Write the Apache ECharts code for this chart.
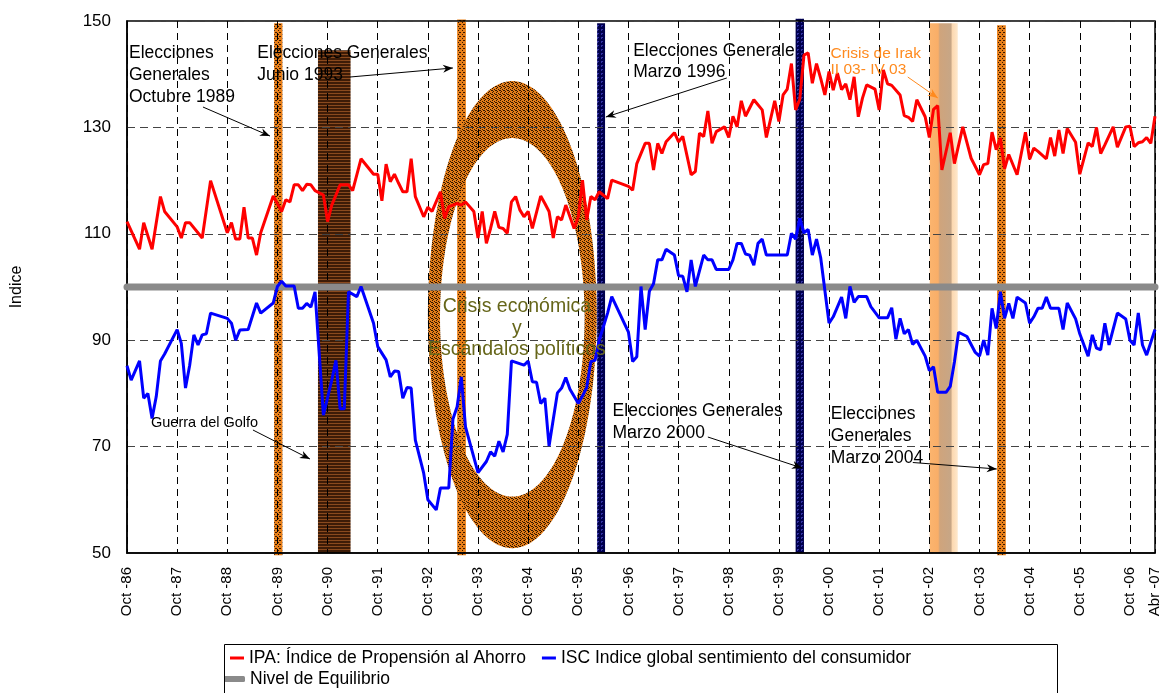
<!DOCTYPE html>
<html><head><meta charset="utf-8">
<script src="https://cdn.jsdelivr.net/npm/echarts/dist/echarts.min.js"></script>
<style>html,body{margin:0;padding:0;background:#fff}#c{width:1174px;height:693px}</style>
</head><body><div id="c"></div>
<script>
const FONT = '"Liberation Sans", Arial, sans-serif';

// x axis: months since Oct-1986 (0 = Oct-86, 246 = Abr-07)
const xTickLabels = ['Oct -86','Oct -87','Oct -88','Oct -89','Oct -90','Oct -91','Oct -92','Oct -93','Oct -94','Oct -95','Oct -96','Oct -97','Oct -98','Oct -99','Oct -00','Oct -01','Oct -02','Oct -03','Oct -04','Oct -05','Oct -06'];
const lastTickLabel = 'Abr -07';
const yTicks = [50,70,90,110,130,150];

const seriesNames = ['IPA: Índice de Propensión al Ahorro','ISC Indice global sentimiento del consumidor','Nivel de Equilibrio'];

// IPA [month, value]
const ipa = [[0,112.3],[3,107.1],[4,112.1],[6,107.1],[8,117.0],[9,114.2],[12,111.3],[13,109.2],[14,112.1],[15,112.1],[18,109.2],[20,120.0],[24,110.2],[25,112.1],[26,109.0],[27,109.0],[28,115.0],[29,109.2],[30,109.2],[31,106.0],[32,110.2],[35,117.1],[37,114.2],[38,116.4],[39,116.0],[40,119.2],[41,119.2],[42,118.1],[43,119.3],[44,119.2],[45,118.1],[47,117.3],[48,112.3],[49,115.4],[51,119.2],[53,119.2],[54,118.1],[56,124.1],[59,121.2],[60,121.2],[61,116.2],[62,123.1],[63,119.8],[64,121.2],[65,119.5],[66,117.9],[67,117.9],[68,124.1],[69,117.0],[71,113.2],[72,115.0],[73,114.2],[75,117.9],[76,112.9],[77,115.1],[78,115.4],[79,115.7],[80,115.4],[81,116.0],[83,114.2],[84,109.2],[85,114.2],[86,108.2],[87,111.0],[88,114.2],[89,111.2],[90,111.0],[91,110.1],[92,116.0],[93,117.0],[94,114.5],[95,113.2],[96,114.2],[97,111.0],[99,117.1],[100,115.7],[101,114.2],[102,109.2],[103,113.2],[104,112.6],[105,115.4],[106,113.2],[107,111.0],[108,113.2],[109,120.1],[110,112.6],[111,117.0],[112,116.4],[113,117.9],[115,116.6],[116,120.1],[120,118.9],[121,118.2],[122,123.2],[124,127.0],[125,127.0],[126,122.0],[127,127.0],[128,125.1],[129,127.3],[131,129.0],[132,127.3],[133,128.3],[135,121.1],[136,121.7],[137,128.9],[138,128.3],[139,133.1],[140,127.0],[141,129.2],[143,130.1],[144,128.1],[145,132.1],[146,130.1],[147,135.0],[148,132.1],[150,135.2],[152,133.3],[153,128.1],[155,135.0],[156,131.1],[157,136.1],[158,137.2],[159,142.0],[160,133.3],[161,135.3],[162,143.6],[163,144.0],[164,138.3],[165,142.0],[166,139.2],[167,136.1],[168,140.5],[169,137.0],[170,140.2],[171,137.1],[172,138.2],[173,135.2],[174,139.5],[175,132.0],[176,135.5],[177,138.0],[179,137.2],[180,133.3],[181,140.8],[182,138.2],[183,137.9],[185,136.1],[186,132.2],[187,131.9],[188,131.1],[189,135.2],[191,132.0],[192,128.1],[193,133.4],[194,134.1],[195,122.0],[197,129.0],[198,123.2],[200,130.1],[202,124.2],[204,121.1],[205,123.0],[206,123.2],[207,129.1],[208,125.8],[209,128.0],[210,122.2],[211,124.9],[213,121.1],[215,129.1],[216,124.0],[217,126.1],[218,125.5],[220,124.1],[221,128.1],[222,124.6],[223,129.5],[224,125.1],[225,129.8],[227,127.2],[228,121.2],[230,127.1],[231,126.4],[232,130.0],[233,125.1],[234,126.7],[236,130.1],[237,126.3],[239,130.1],[240,130.2],[241,126.4],[242,127.1],[243,127.3],[244,128.1],[245,127.0],[246,132.1]];

// ISC [month, value]
const isc = [[0,85.2],[1,82.5],[3,86.1],[4,79.1],[5,80.0],[6,75.3],[7,79.4],[8,86.1],[9,87.4],[12,92.0],[13,89.4],[14,81.0],[15,85.3],[16,91.0],[17,89.1],[18,91.0],[19,91.2],[20,95.1],[24,94.1],[25,93.2],[26,90.0],[27,91.9],[29,92.0],[31,97.0],[32,95.1],[35,97.0],[36,100.1],[37,101.1],[38,100.2],[40,100.2],[41,96.0],[42,96.0],[43,96.9],[44,96.2],[45,99.1],[47,75.9],[49,82.5],[50,86.2],[51,77.1],[52,77.1],[53,99.1],[55,98.2],[56,100.1],[59,93.2],[60,88.8],[62,86.3],[63,83.1],[64,84.2],[65,84.1],[66,79.1],[67,81.1],[68,81.0],[69,71.2],[71,65.0],[72,60.0],[74,58.1],[75,62.2],[77,62.2],[78,75.2],[79,77.5],[80,83.1],[81,73.7],[84,65.1],[86,67.2],[87,69.0],[88,68.2],[89,71.0],[90,69.0],[91,72.3],[92,86.1],[95,85.3],[96,86.1],[97,82.2],[98,82.1],[99,78.1],[100,79.1],[101,70.1],[103,80.1],[104,81.0],[105,83.0],[106,80.8],[108,78.1],[109,79.5],[110,81.1],[111,86.0],[112,86.2],[113,90.0],[115,95.1],[116,98.2],[120,91.5],[121,86.0],[122,86.9],[123,100.1],[124,92.0],[125,99.2],[126,100.6],[127,105.1],[128,105.1],[129,107.1],[131,106.0],[132,102.1],[133,102.0],[134,99.1],[135,105.1],[136,100.1],[138,106.0],[139,105.1],[140,105.1],[141,103.3],[144,103.3],[145,105.1],[146,108.2],[147,108.2],[148,106.2],[149,106.0],[150,104.1],[151,108.2],[152,109.0],[153,106.0],[158,106.0],[159,110.1],[160,109.0],[161,112.9],[162,110.2],[163,110.8],[164,106.0],[165,109.0],[166,105.5],[168,93.2],[169,94.4],[171,98.1],[172,94.1],[173,100.1],[174,97.1],[175,98.2],[177,98.2],[178,96.3],[180,94.2],[182,94.2],[183,96.1],[184,90.2],[185,94.1],[186,91.2],[187,92.0],[188,89.2],[189,90.0],[191,87.0],[192,84.3],[193,85.0],[194,80.2],[196,80.2],[197,81.3],[198,85.9],[199,91.5],[201,90.7],[203,87.7],[204,87.0],[205,90.0],[206,87.2],[207,96.0],[208,92.2],[209,99.1],[210,94.1],[211,96.9],[212,94.1],[213,98.1],[215,97.0],[216,93.2],[217,94.4],[218,96.0],[219,96.0],[220,98.1],[221,96.0],[223,96.0],[224,92.0],[225,97.0],[227,94.0],[228,91.2],[230,87.0],[231,91.0],[232,88.5],[233,88.2],[234,93.2],[235,89.1],[237,95.1],[239,94.0],[240,90.0],[241,89.1],[242,95.1],[243,89.1],[244,87.2],[246,92.0]];

const equilibrium = 100;
const xMin = 0, xMax = 246;

// event bands (months) and their vertical extent (index values)
const bandStart  = [35.2, 45.7, 79.0, 112.5, 160.0, 192.1, 208.2];
const bandEnd    = [37.2, 53.5, 81.1, 114.4, 162.0, 198.8, 210.3];
const bandTop    = [149.6, 144.5, 150.3, 149.6, 150.4, 149.6, 149.2];
const bandBottom = [49.6, 50.0, 49.6, 50.0, 50.0, 50.0, 49.6];
const bandKind   = [0, 1, 0, 2, 2, 3, 0];

// "crisis" ring: centre month/value, outer radii, inner centre value, inner radii
const ringCenterMonth = 92.2, ringCenterValue = 94.8, ringOuterRx = 20.2, ringOuterRy = 43.9;
const ringInnerValue = 94.3, ringInnerRx = 17.3, ringInnerRy = 33.7;

// annotations [month, value] of top-left (or top-centre) corner
const annotations = [
  {text:'Elecciones\nGenerales\nOctubre 1989', at:[0.48,146.05], size:17.5, lh:22, color:'#000', align:'left'},
  {text:'Elecciones Generales\nJunio 1993', at:[31.17,146.05], size:17.5, lh:22, color:'#000', align:'left'},
  {text:'Elecciones Generale\nMarzo 1996', at:[121.12,146.43], size:17.5, lh:21.5, color:'#000', align:'left'},
  {text:'Crisis de Irak\nII 03- IV 03', at:[168.35,145.30], size:15.5, lh:16, color:'#FF8A1E', align:'left'},
  {text:'Guerra del Golfo', at:[5.74,75.94], size:14.5, lh:16, color:'#000', align:'left'},
  {text:'Elecciones Generales\nMarzo 2000', at:[116.2,78.67], size:17.5, lh:21.5, color:'#000', align:'left'},
  {text:'Elecciones\nGenerales\nMarzo 2004', at:[168.42,78.10], size:17.5, lh:22, color:'#000', align:'left'},
  {text:'Crisis económica\ny\nEscándalos políticos', at:[93.3,98.31], size:19.5, lh:21.5, color:'#66661A', align:'center'}
];
const arrows = [
  {from:[18.18,133.83], to:[34.21,128.38], color:'#000'},
  {from:[53.35,139.47], to:[77.99,141.17], color:'#000'},
  {from:[143.54,139.29], to:[114.59,131.95], color:'#000'},
  {from:[186.84,139.47], to:[194.02,135.53], color:'#FF8A1E'},
  {from:[30.14,73.12], to:[43.78,67.67], color:'#000'},
  {from:[139.0,71.8], to:[161.53,65.98], color:'#000'},
  {from:[188.04,67.01], to:[208.13,65.79], color:'#000'}
];

function makeTile(w, h, draw){const c=document.createElement('canvas');c.width=w;c.height=h;const g=c.getContext('2d');draw(g);return c;}
const orangeTile = makeTile(4,4,g=>{g.fillStyle='#E8801A';g.fillRect(0,0,4,4);g.fillStyle='#3a1800';g.fillRect(0,0,1,1);g.fillRect(2,2,1,1);g.fillRect(3,0,1,1);});
const ringTile = makeTile(4,4,g=>{g.fillStyle='#E27C18';g.fillRect(0,0,4,4);g.fillStyle='#301600';g.fillRect(0,0,1,1);g.fillRect(2,1,1,1);g.fillRect(1,3,1,1);g.fillRect(3,2,1,1);g.fillRect(0,2,1,1);});
const brownTile = makeTile(2,3,g=>{g.fillStyle='#8a4a1e';g.fillRect(0,0,2,1);g.fillStyle='#3e1c07';g.fillRect(0,1,2,2);});
const navyTile = makeTile(4,4,g=>{g.fillStyle='#00004e';g.fillRect(0,0,4,4);g.fillStyle='#3434a4';g.fillRect(1,1,2,2);g.fillStyle='#00004e';g.fillRect(2,2,1,1);});
const bandFills = [
  {image: orangeTile, repeat:'repeat'},
  {image: brownTile, repeat:'repeat'},
  {image: navyTile, repeat:'repeat'},
  {type:'linear', x:0, y:0, x2:1, y2:0, colorStops:[
    {offset:0, color:'#FBB46E'},{offset:0.3, color:'#F9AE68'},{offset:0.36, color:'#CFA47C'},
    {offset:0.76, color:'#C7A686'},{offset:0.8, color:'#FCD8B0'},{offset:1, color:'#FEE8CC'}]}
];

const bandData = bandStart.map((s,i)=>[s, bandEnd[i], bandTop[i], bandBottom[i], bandKind[i]]);

const chart = echarts.init(document.getElementById('c'), null, {renderer:'canvas'});
chart.setOption({
  animation:false,
  backgroundColor:'#fff',
  textStyle:{fontFamily:FONT},
  grid:{left:127, right:19, top:21, bottom:140, show:true, backgroundColor:'transparent', borderColor:'#000', borderWidth:1.5, outerBoundsMode:'none', containLabel:false},
  xAxis:{type:'value', min:xMin, max:xMax, interval:12,
    axisLine:{show:true, lineStyle:{color:'#000', width:1.5}}, axisTick:{show:false},
    splitLine:{show:true, lineStyle:{color:'#000', width:1, type:[7,5]}},
    axisLabel:{rotate:90, fontSize:15, color:'#000', fontFamily:FONT, margin:14, showMaxLabel:true, showMinLabel:true,
      formatter:v=>{ if (Math.abs(v-xMax)<1e-6) return lastTickLabel; const i=v/12; return Number.isInteger(i)?(xTickLabels[i]||''):''; }}},
  yAxis:{type:'value', min:yTicks[0], max:yTicks[yTicks.length-1], interval:20,
    axisLine:{show:true, lineStyle:{color:'#000', width:1.5}}, axisTick:{show:false},
    splitLine:{show:true, lineStyle:{color:'#444', width:1, type:[8,5]}},
    axisLabel:{fontSize:17, color:'#000', fontFamily:FONT, margin:16},
    name:'Indice', nameLocation:'middle', nameGap:102, nameTextStyle:{fontSize:16, color:'#000', fontFamily:FONT}},
  legend:[
    {data:[seriesNames[0], seriesNames[1]], left:230, top:649, padding:0, itemGap:16, itemWidth:14, itemHeight:3, icon:'rect',
      textStyle:{fontSize:17.5, color:'#000', fontFamily:FONT}, selectedMode:false},
    {data:[seriesNames[2]], left:224, top:670, padding:0, itemWidth:21, itemHeight:6, icon:'roundRect',
      textStyle:{fontSize:17.5, color:'#000', fontFamily:FONT}, selectedMode:false}
  ],
  series:[
    {type:'custom', name:'bands', z:-1, silent:true, clip:false, data:bandData,
      encode:{x:[0,1], y:[2,3]},
      renderItem:(params, api)=>{
        const p1 = api.coord([api.value(0), api.value(2)]);
        const p2 = api.coord([api.value(1), api.value(3)]);
        return {type:'rect', shape:{x:p1[0], y:p1[1], width:p2[0]-p1[0], height:p2[1]-p1[1]}, style:{fill: bandFills[api.value(4)]}};
      }},
    {type:'custom', name:'ring', z:-1, silent:true, clip:false,
      data:[[ringCenterMonth, ringCenterValue, ringOuterRx, ringOuterRy, ringInnerValue, ringInnerRx, ringInnerRy]],
      encode:{x:0, y:1},
      renderItem:(params, api)=>{
        const cm=api.value(0), cv=api.value(1), orx=api.value(2), ory=api.value(3), icv=api.value(4), irx=api.value(5), iry=api.value(6);
        const pts=[]; const N=144;
        for(let i=0;i<=N;i++){const a=2*Math.PI*i/N; pts.push(api.coord([cm+orx*Math.cos(a), cv+ory*Math.sin(a)]));}
        for(let i=N;i>=0;i--){const a=2*Math.PI*i/N; pts.push(api.coord([cm+irx*Math.cos(a), icv+iry*Math.sin(a)]));}
        return {type:'polygon', shape:{points:pts}, style:{fill:{image: ringTile, repeat:'repeat'}}};
      }},
    {type:'line', name:seriesNames[2], data:[[xMin,equilibrium],[xMax,equilibrium]], symbol:'none', z:2,
      lineStyle:{color:'#8a8a8a', width:7, cap:'round'}, itemStyle:{color:'#8a8a8a'}},
    {type:'line', name:seriesNames[0], data:ipa, symbol:'none', z:3,
      lineStyle:{color:'#ff0000', width:3}, itemStyle:{color:'#ff0000'}},
    {type:'line', name:seriesNames[1], data:isc, symbol:'none', z:4,
      lineStyle:{color:'#0000ff', width:3}, itemStyle:{color:'#0000ff'}}
  ]
});

// annotations positioned from data coordinates
const px = p => chart.convertToPixel({gridIndex:0}, p);
const gfx = [];
annotations.forEach(a=>{
  const p = px(a.at);
  gfx.push({type:'text', x:p[0], y:p[1], z:100, silent:true,
    style:{text:a.text, fill:a.color, fontSize:a.size, fontFamily:FONT, lineHeight:a.lh, align:a.align, verticalAlign:'top'}});
});
arrows.forEach(a=>{
  const p0 = px(a.from), p1 = px(a.to);
  gfx.push({type:'line', z:100, silent:true, shape:{x1:p0[0], y1:p0[1], x2:p1[0], y2:p1[1]}, style:{stroke:a.color, lineWidth:1}});
  const dx=p1[0]-p0[0], dy=p1[1]-p0[1], L=Math.hypot(dx,dy), ux=dx/L, uy=dy/L, len=10, hw=4;
  const bx=p1[0]-ux*len, by=p1[1]-uy*len;
  gfx.push({type:'polygon', z:100, silent:true, shape:{points:[[p1[0],p1[1]],[bx-uy*hw,by+ux*hw],[p1[0]-ux*len*0.7,p1[1]-uy*len*0.7],[bx+uy*hw,by-ux*hw]]}, style:{fill:a.color}});
});
// legend frame
gfx.push({type:'rect', z:50, silent:true, shape:{x:224.5, y:644.5, width:833, height:60}, style:{fill:'none', stroke:'#000', lineWidth:1}});
chart.setOption({graphic:gfx});
</script></body></html>
